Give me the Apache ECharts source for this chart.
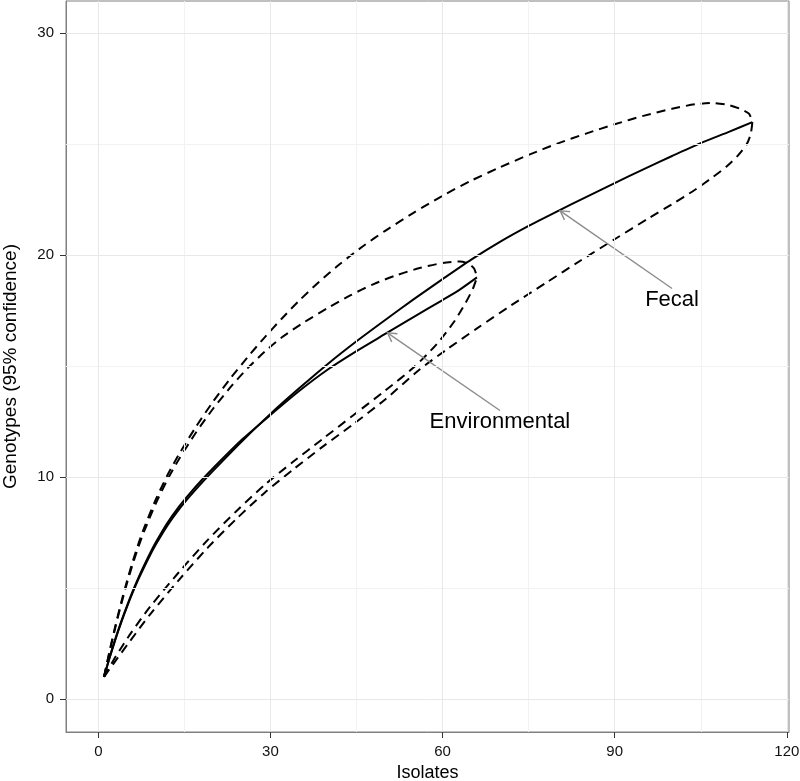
<!DOCTYPE html>
<html>
<head>
<meta charset="utf-8">
<script src="https://cdn.jsdelivr.net/npm/echarts@6/dist/echarts.min.js"></script>
<style>
html,body{margin:0;padding:0;background:#fff;}
#chart{width:800px;height:781px;}
</style>
</head>
<body>
<div id="chart"></div>
<script>
// ---- data ----
const xTicks = [0, 30, 60, 90, 120];
const yTicks = [0, 10, 20, 30];
const xMinor = [15, 45, 75, 105];
const yMinor = [5, 15, 25];

const fecalMean = [[1,1],[2,1.88],[3,2.7],[4,3.45],[5,4.15],[6,4.8],[7,5.4],[8,5.95],[9,6.47],[10,6.95],[12,7.8],[14,8.52],[16,9.15],[18,9.73],[20,10.28],[25,11.6],[30,12.85],[35,14.0],[40,15.1],[45,16.12],[50,17.08],[55,18.02],[60,18.92],[65,19.8],[70,20.6],[75,21.32],[80,21.98],[85,22.62],[90,23.25],[95,23.87],[100,24.47],[105,25.05],[110,25.57],[114,26]];
const fecalUpper = [[1,1],[2,2.2],[3,3.32],[4,4.36],[5,5.32],[6,6.2],[7,7.0],[8,7.72],[10,8.98],[12,10.06],[14,11.0],[17,12.26],[20,13.4],[23,14.44],[26,15.4],[29,16.3],[32,17.15],[35,17.95],[38.5,18.8],[42,19.58],[46,20.38],[50,21.1],[55,21.92],[60,22.68],[65,23.36],[70,23.96],[75,24.52],[80,25.03],[85,25.48],[90,25.9],[95,26.28],[100,26.6],[104,26.8],[107,26.86],[110,26.76],[112,26.58],[113.4,26.38],[114,26]];
const fecalLower = [[1,1],[3,1.72],[5.5,2.6],[9,3.8],[14,5.35],[19,6.8],[24,8.1],[29,9.3],[34,10.35],[39,11.35],[44.5,12.4],[50,13.5],[56,14.85],[61,15.8],[66,16.7],[72,17.75],[78,18.75],[84,19.75],[90,20.72],[96,21.68],[100,22.3],[104,22.95],[107,23.5],[109.5,24.0],[111.5,24.5],[113,25.0],[113.7,25.45],[114,26]];

const envMean = [[1,1],[2,1.9],[3,2.73],[4,3.5],[5,4.2],[6,4.86],[7,5.47],[8,6.03],[9,6.56],[10,7.05],[12,7.92],[14,8.65],[16,9.28],[18,9.86],[20,10.4],[25,11.68],[30,12.8],[35,13.88],[40,14.85],[45,15.68],[50,16.45],[55,17.22],[60,17.98],[63,18.45],[66,19.0]];
const envUpper = [[1,1],[2,2.17],[3,3.26],[4,4.28],[5,5.22],[6,6.08],[7,6.86],[8,7.56],[10,8.8],[12,9.86],[14,10.78],[17,12.0],[20,13.08],[23,14.04],[26,14.9],[29,15.65],[32,16.3],[36,17.0],[40,17.62],[44,18.2],[48,18.7],[52,19.1],[56,19.42],[60,19.65],[63,19.72],[64.5,19.62],[65.5,19.4],[66,19.0]];
const envLower = [[1,1],[3,1.9],[5.5,2.9],[9,4.15],[14,5.7],[19,7.15],[24,8.45],[29,9.65],[34,10.7],[39,11.7],[44.5,12.8],[50,13.9],[55,14.95],[59,16.0],[62,17.0],[64,17.85],[65.3,18.5],[66,19.0]];

// annotations
const annoNames = ['Fecal', 'Environmental'];
const annoLabelPos = [[100, 18], [70, 12.5]];
const annoArrows = [[100, 18.5, 80.5, 22.0], [70, 13.0, 50.4, 16.5]];

// ---- chart ----
const chart = echarts.init(document.getElementById('chart'), null, {renderer: 'canvas'});
const FONT = 'Liberation Sans, Arial, Helvetica, sans-serif';

function gridLines(vals, axis, color) {
  return vals.map(v => ({[axis]: v, lineStyle: {color: color, width: 1, type: 'solid'}}));
}

const solidStyle = {color: '#000', width: 2, type: 'solid'};
const dashStyle = {color: '#000', width: 2, type: [9, 6]};
function lineSeries(name, data, style) {
  return {name, type: 'line', data, showSymbol: false, symbol: 'none', smooth: 0.25,
    lineStyle: style, silent: true, animation: false, z: 3};
}

const option = {
  animation: false,
  backgroundColor: '#fff',
  grid: {left: 66, right: 11, top: 1, bottom: 49, show: true, borderColor: '#808080', borderWidth: 1,
    backgroundColor: '#fff', containLabel: false, outerBoundsMode: 'none'},
  xAxis: {
    type: 'value', min: -5.63, max: 120.38,
    name: 'Isolates', nameLocation: 'middle', nameGap: 30,
    nameTextStyle: {fontFamily: FONT, fontSize: 18, color: '#000'},
    axisLine: {show: true, onZero: false, lineStyle: {color: '#808080', width: 1}},
    axisTick: {show: true, inside: false, length: 6, customValues: xTicks, lineStyle: {color: '#333', width: 1}},
    axisLabel: {customValues: xTicks, fontFamily: FONT, fontSize: 15, color: '#111', margin: 12},
    splitLine: {show: false}
  },
  yAxis: {
    type: 'value', min: -1.487, max: 31.456,
    name: 'Genotypes (95% confidence)', nameLocation: 'middle', nameGap: 46, nameRotate: 90,
    nameTextStyle: {fontFamily: FONT, fontSize: 19, color: '#000'},
    axisLine: {show: true, onZero: false, lineStyle: {color: '#808080', width: 1}},
    axisTick: {show: true, inside: false, length: 6, customValues: yTicks, lineStyle: {color: '#333', width: 1}},
    axisLabel: {customValues: yTicks, fontFamily: FONT, fontSize: 15, color: '#111', margin: 12},
    splitLine: {show: false}
  },
  series: [
    {
      name: 'grid', type: 'line', data: [], silent: true, z: 1,
      markLine: {
        silent: true, symbol: ['none', 'none'], label: {show: false}, animation: false,
        data: [].concat(
          gridLines(xMinor, 'xAxis', '#f2f2f2'),
          gridLines(yMinor, 'yAxis', '#f2f2f2'),
          gridLines(xTicks, 'xAxis', '#e8e8e8'),
          gridLines(yTicks, 'yAxis', '#e8e8e8')
        )
      }
    },
    lineSeries('Fecal upper', fecalUpper, dashStyle),
    lineSeries('Fecal lower', fecalLower, dashStyle),
    lineSeries('Environmental upper', envUpper, dashStyle),
    lineSeries('Environmental lower', envLower, dashStyle),
    lineSeries('Fecal', fecalMean, solidStyle),
    lineSeries('Environmental', envMean, solidStyle),
    {
      name: 'arrows', type: 'custom', silent: true, z: 4,
      data: annoArrows,
      renderItem: function (params, api) {
        const p1 = api.coord([api.value(0), api.value(1)]);
        const p2 = api.coord([api.value(2), api.value(3)]);
        const ang = Math.atan2(p1[1] - p2[1], p1[0] - p2[0]);
        const L = 10, a = Math.PI / 6;
        const h1 = [p2[0] + L * Math.cos(ang + a), p2[1] + L * Math.sin(ang + a)];
        const h2 = [p2[0] + L * Math.cos(ang - a), p2[1] + L * Math.sin(ang - a)];
        return {type: 'group', children: [
          {type: 'line', shape: {x1: p1[0], y1: p1[1], x2: p2[0], y2: p2[1]}, style: {stroke: '#8c8c8c', lineWidth: 1.4}},
          {type: 'polyline', shape: {points: [h1, p2, h2]}, style: {stroke: '#8c8c8c', lineWidth: 1.4, fill: null}}
        ]};
      }
    },
    {
      name: 'labels', type: 'custom', silent: true, z: 5,
      data: annoLabelPos.map((p, i) => [p[0], p[1], i]),
      renderItem: function (params, api) {
        const p = api.coord([api.value(0), api.value(1)]);
        return {type: 'text', x: p[0], y: p[1], style: {
          text: annoNames[api.value(2)], fill: '#000', fontSize: 22, fontFamily: FONT,
          align: 'center', verticalAlign: 'middle', textAlign: 'center', textVerticalAlign: 'middle'
        }};
      }
    }
  ]
};
chart.setOption(option);
</script>
</body>
</html>
